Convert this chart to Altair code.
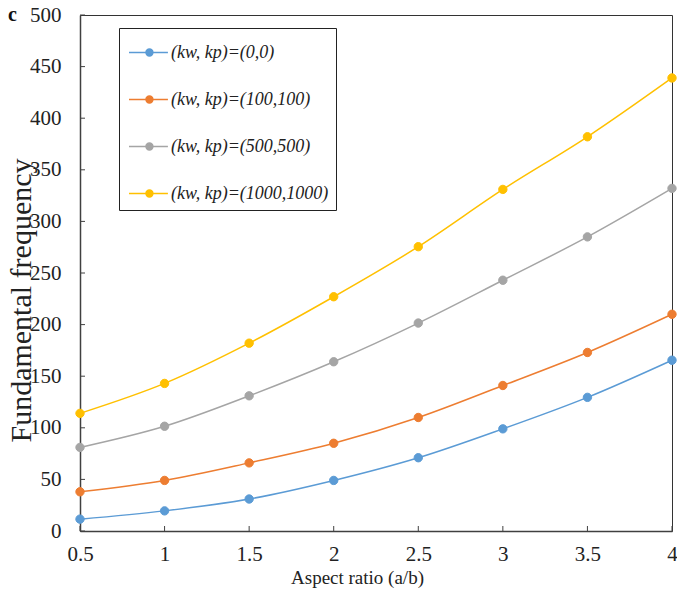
import altair as alt
import pandas as pd

# ---- data ----
x_vals = [0.5, 1, 1.5, 2, 2.5, 3, 3.5, 4]
s_0_0 = [11.5, 19.5, 31, 49, 71, 99, 129.5, 165.5]
s_100_100 = [38, 49, 66, 85, 110, 141, 173, 210]
s_500_500 = [81, 101.5, 131, 164, 201.5, 243, 285, 332]
s_1000_1000 = [114, 143, 182, 227, 275.5, 331, 382, 439]
series_names = ["(kw, kp)=(0,0)", "(kw, kp)=(100,100)",
                "(kw, kp)=(500,500)", "(kw, kp)=(1000,1000)"]
colors = ["#5B9BD5", "#ED7D31", "#A5A5A5", "#FFC000"]
y_ticks = list(range(0, 501, 50))
x_ticks = x_vals

rows = []
for name, vals in zip(series_names, [s_0_0, s_100_100, s_500_500, s_1000_1000]):
    for xv, yv in zip(x_vals, vals):
        rows.append({"ratio": xv, "freq": yv, "series": name})
df = pd.DataFrame(rows)

FONT = "Liberation Serif"
TXT = "#222222"
AX = "#404040"
W, H = 592, 516

xscale = alt.Scale(domain=[0.5, 4], nice=False, zero=False)
yscale = alt.Scale(domain=[0, 500], nice=False)
cscale = alt.Scale(domain=series_names, range=colors)

x_axis = alt.Axis(values=x_ticks, format="~g", title="Aspect ratio (a/b)", ticks=False,
                  grid=False, labelFont=FONT, labelFontSize=21, labelPadding=12,
                  labelColor=TXT, labelFlush=False, titleFont=FONT, titleFontSize=19,
                  titleFontWeight="normal", titleColor=TXT, titleX=277, titleY=46,
                  titleBaseline="middle", titleAlign="center",
                  domainColor=AX, domainWidth=1.5)
y_axis = alt.Axis(values=y_ticks, format="d", title="Fundamental frequency", ticks=False,
                  grid=False, labelFont=FONT, labelFontSize=21, labelPadding=19,
                  labelColor=TXT, labelFlush=False, titleFont=FONT, titleFontSize=30,
                  titleFontWeight="normal", titleColor=TXT, titleX=-50, titleY=285,
                  titleAngle=270, titleBaseline="alphabetic", titleAlign="center",
                  domainColor=AX, domainWidth=1.5)

SYM = "M-0.88,0L1.48,0M0.15,0A0.21,0.21,0,1,0,0.57,0A0.21,0.21,0,1,0,0.15,0Z"
legend = alt.Legend(title=None, orient="none", legendX=39, legendY=13,
                    direction="vertical", symbolType=SYM, symbolSize=1089,
                    symbolStrokeWidth=1.5, symbolOpacity=1,
                    labelFont=FONT, labelFontSize=18, labelFontStyle="italic",
                    labelColor=TXT, labelOffset=10, labelLimit=0, rowPadding=20,
                    padding=7, strokeColor="#222222", fillColor="white")

base = alt.Chart(df)
lines = base.mark_line(interpolate="monotone", strokeWidth=1.5).encode(
    x=alt.X("ratio:Q", scale=xscale, axis=x_axis),
    y=alt.Y("freq:Q", scale=yscale, axis=y_axis),
    stroke=alt.Stroke("series:N", scale=cscale, legend=legend),
    detail="series:N",
)
points = base.mark_point(filled=True, size=70, opacity=1, strokeWidth=1).encode(
    x=alt.X("ratio:Q", scale=xscale, axis=x_axis),
    y=alt.Y("freq:Q", scale=yscale, axis=y_axis),
    fill=alt.Fill("series:N", scale=cscale, legend=legend),
    stroke=alt.Stroke("series:N", scale=cscale, legend=legend),
)

yt = alt.Chart(pd.DataFrame({"v": y_ticks})).mark_rule(color=AX, strokeWidth=1).encode(
    y=alt.Y("v:Q", scale=yscale, axis=y_axis), x=alt.value(0), x2=alt.value(5))
xt = alt.Chart(pd.DataFrame({"v": x_ticks})).mark_rule(color=AX, strokeWidth=1).encode(
    x=alt.X("v:Q", scale=xscale, axis=x_axis), y=alt.value(H), y2=alt.value(H - 5))

panel_label = alt.Chart(pd.DataFrame({"t": ["c"]})).mark_text(
    font=FONT, fontSize=20, fontWeight="bold", color="#111111",
    align="left", baseline="alphabetic").encode(
    text="t:N", x=alt.value(-72), y=alt.value(6))

chart = alt.layer(lines, points, yt, xt, panel_label).properties(
    width=W, height=H,
    autosize=alt.AutoSizeParams(type="none"),
    padding={"left": 72, "top": 7, "right": 5, "bottom": 57},
    background="white",
).configure_view(stroke="#333333", strokeWidth=1)

chart.save("out.html", embed_options={"renderer": "svg", "actions": False})
